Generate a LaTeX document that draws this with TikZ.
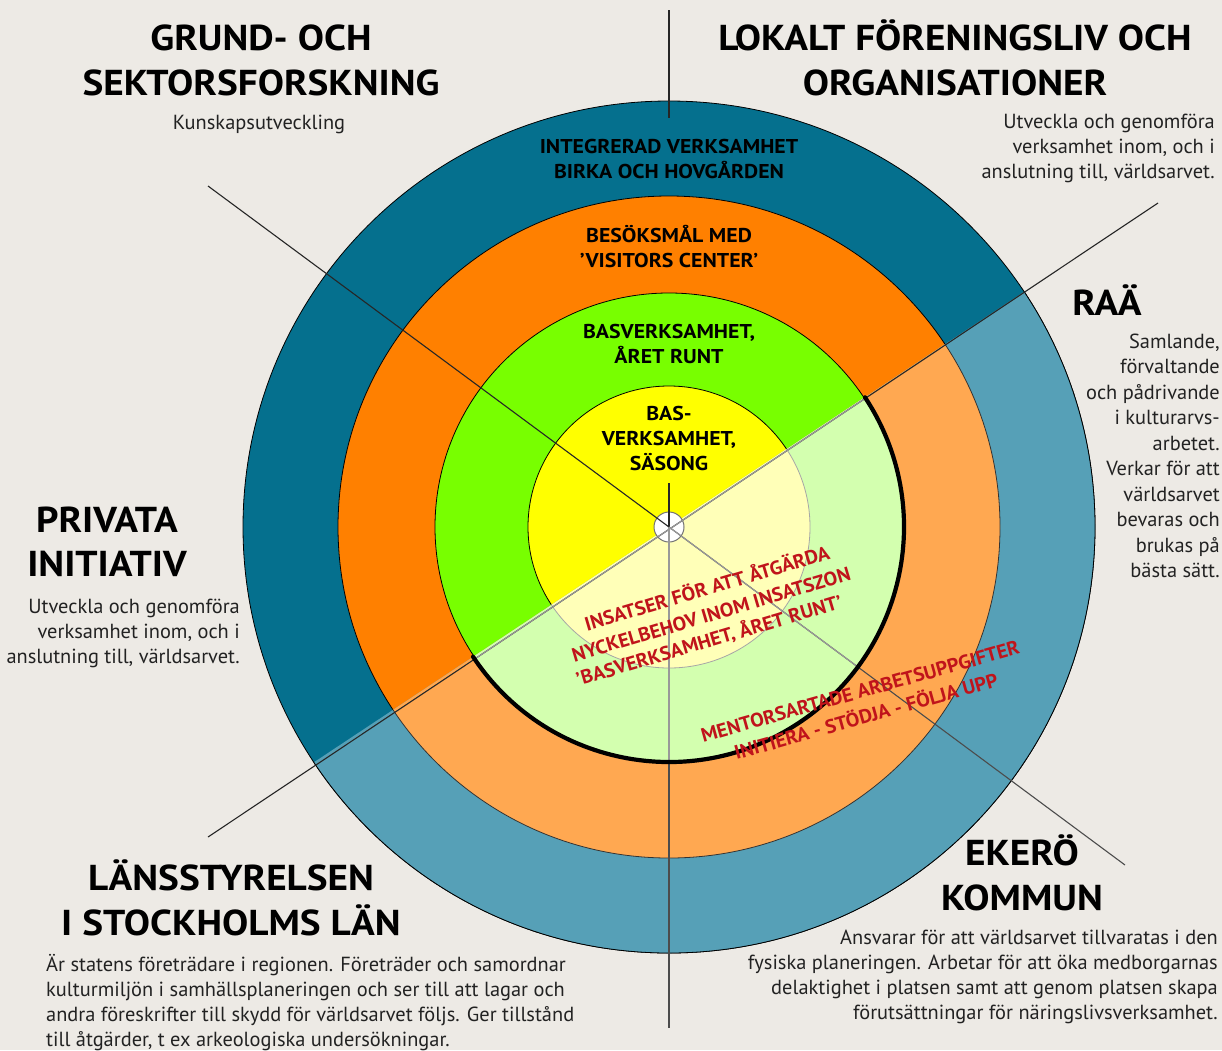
\documentclass[tikz,border=0pt]{standalone}
\usepackage{fontspec}
\setmainfont{PT Sans}
\newfontfamily\headfont[FakeStretch=1.09]{PT Sans}
\newfontfamily\redfont[FakeStretch=1.04]{PT Sans}
\usetikzlibrary{calc}
\definecolor{bg}{HTML}{EDEAE5}
\definecolor{dblue}{HTML}{05708E}
\definecolor{lblue}{HTML}{56A0B7}
\definecolor{dorange}{HTML}{FF8000}
\definecolor{lorange}{HTML}{FFA851}
\definecolor{dgreen}{HTML}{78FF00}
\definecolor{lgreen}{HTML}{D3FFAF}
\definecolor{dyellow}{HTML}{FFFF00}
\definecolor{lyellow}{HTML}{FFFFB8}
\definecolor{redc}{HTML}{C0141B}
\definecolor{bodyc}{HTML}{222222}
\begin{document}
\begin{tikzpicture}[x=1pt,y=-1pt,
  head/.style={font=\headfont\bfseries\fontsize{36}{36}\selectfont, anchor=base, inner sep=0pt, text=black},
  body/.style={font=\fontsize{20.4}{20}\selectfont, inner sep=0pt, text=bodyc},
  ring/.style={font=\headfont\bfseries\fontsize{20}{20}\selectfont, anchor=base, inner sep=0pt, text=black},
  redtxt/.style={font=\redfont\bfseries\fontsize{19.5}{19}\selectfont, anchor=base, inner sep=0pt, text=redc, rotate=16.5},
  ln/.style={draw=black!85, line width=1.1pt},
  glight/.style={draw=black!40, line width=1.1pt}]
\useasboundingbox (0,0) rectangle (1222,1050);
\fill[bg] (0,0) rectangle (1222,1050);
\coordinate (c) at (669,527);
\coordinate (ul) at (208,186);
\coordinate (lr) at (1125,865);
\coordinate (dl) at (208,837);
\coordinate (dr) at (1158,203);
\coordinate (vt) at (669,10);
\coordinate (vtb) at (669,118);
\coordinate (vm) at (669,483);
\coordinate (vb) at (669,1028);

% dark half (full rings)
\fill[dblue, draw=black, line width=0.8pt] (c) circle (426);
\fill[dorange, draw=black, line width=0.8pt] (c) circle (331);
\fill[dgreen, draw=black, line width=0.8pt] (c) circle (234);
\fill[dyellow, draw=black, line width=0.8pt] (c) circle (141);

% light half
\begin{scope}
  \clip (1647,-121) -- (1641,1994) -- (-309,1175) -- cycle;
  \fill[lblue, draw=black, line width=0.8pt] (c) circle (426);
  \fill[lorange, draw=black!80, line width=0.8pt] (c) circle (331);
  \fill[lgreen, draw=black!60, line width=0.8pt] (c) circle (234);
  \fill[lyellow, draw=black!35, line width=0.8pt] (c) circle (141);
\end{scope}

% centre disc
\fill[white, draw=black!55, line width=1pt] (c) circle (15);

% lines
\draw[ln] (vt) -- (vtb);
\draw[ln] (vm) -- (c);
\draw[ln] (ul) -- (c);
\draw[ln, draw=black!70] (c) -- (lr);
\draw[ln, draw=black!70] (c) -- (vb);
\draw[ln] (dl) -- (dr);
\begin{scope}
  \clip (1647,-121) -- (1641,1994) -- (-309,1175) -- cycle;
  \clip (c) circle (233);
  \draw[glight] (c) -- (lr);
  \draw[glight] (c) -- (vb);
  \draw[glight] (dl) -- (dr);
\end{scope}

% thick hand-drawn border
\draw[line width=4.2pt, line cap=round] ($(c)+(-33.5:235)$) arc[start angle=-33.5, end angle=146.5, radius=235];

% ring labels
\node[ring] (r1a) at (669,153) {INTEGRERAD VERKSAMHET};
\node[ring] (r1b) at (669,178) {BIRKA OCH HOVGÅRDEN};
\node[ring] (r2a) at (669,242) {BESÖKSMÅL MED};
\node[ring] (r2b) at (669,267) {’VISITORS CENTER’};
\node[ring] (r3a) at (669,338) {BASVERKSAMHET,};
\node[ring] (r3b) at (669,363) {ÅRET RUNT};
\node[ring] (r4a) at (669,420) {BAS-};
\node[ring] (r4b) at (669,445) {VERKSAMHET,};
\node[ring] (r4c) at (669,470) {SÄSONG};

% red labels
\node[redtxt] (i1) at (709,595) {INSATSER FÖR ATT ÅTGÄRDA};
\node[redtxt] (i2) at (713,621) {NYCKELBEHOV INOM INSATSZON};
\node[redtxt] (i3) at (711,647) {’BASVERKSAMHET, ÅRET RUNT’};
\node[redtxt, rotate=-0.8] (m1) at (862,698) {MENTORSARTADE ARBETSUPPGIFTER};
\node[redtxt, rotate=-0.8] (m2) at (868,723) {INITIERA - STÖDJA - FÖLJA UPP};

% top left
\node[head] (g1) at (261,50) {GRUND- OCH};
\node[head] (g2) at (261,95) {SEKTORSFORSKNING};
\node[body, anchor=base] (g3) at (259,129) {Kunskapsutveckling};

% top right
\node[head] (l1) at (955,50) {LOKALT FÖRENINGSLIV OCH};
\node[head] (l2) at (955,95) {ORGANISATIONER};
\node[body, anchor=base east] (l3) at (1215,128) {Utveckla och genomföra};
\node[body, anchor=base east] (l4) at (1215,153) {verksamhet inom, och i};
\node[body, anchor=base east] (l5) at (1215,178) {anslutning till, världsarvet.};

% RAÄ
\node[head] (ra) at (1107,315) {RAÄ};
\node[body, anchor=base east] (ra1) at (1220,348) {Samlande,};
\node[body, anchor=base east] (ra2) at (1220,373.5) {förvaltande};
\node[body, anchor=base east] (ra3) at (1220,399) {och pådrivande};
\node[body, anchor=base east] (ra4) at (1220,424.5) {i kulturarvs-};
\node[body, anchor=base east] (ra5) at (1220,450) {arbetet.};
\node[body, anchor=base east] (ra6) at (1220,475.5) {Verkar för att};
\node[body, anchor=base east] (ra7) at (1220,501) {världsarvet};
\node[body, anchor=base east] (ra8) at (1220,526.5) {bevaras och};
\node[body, anchor=base east] (ra9) at (1220,552) {brukas på};
\node[body, anchor=base east] (ra10) at (1220,577.5) {bästa sätt.};

% privata
\node[head] (p1) at (107,532) {PRIVATA};
\node[head] (p2) at (107,576) {INITIATIV};
\node[body, anchor=base east] (p3) at (240,613) {Utveckla och genomföra};
\node[body, anchor=base east] (p4) at (240,638) {verksamhet inom, och i};
\node[body, anchor=base east] (p5) at (240,663) {anslutning till, världsarvet.};

% länsstyrelsen
\node[head] (s1) at (231,890) {LÄNSSTYRELSEN};
\node[head] (s2) at (231,935) {I STOCKHOLMS LÄN};
\node[body, anchor=base west] (s3) at (46,971) {Är statens företrädare i regionen. Företräder och samordnar};
\node[body, anchor=base west] (s4) at (46,996) {kulturmiljön i samhällsplaneringen och ser till att lagar och};
\node[body, anchor=base west] (s5) at (46,1021) {andra föreskrifter till skydd för världsarvet följs. Ger tillstånd};
\node[body, anchor=base west] (s6) at (46,1046) {till åtgärder, t ex arkeologiska undersökningar.};

% ekerö
\node[head] (e1) at (1022,865) {EKERÖ};
\node[head] (e2) at (1022,910) {KOMMUN};
\node[body, anchor=base east] (e3) at (1218,944) {Ansvarar för att världsarvet tillvaratas i den};
\node[body, anchor=base east] (e4) at (1218,969) {fysiska planeringen. Arbetar för att öka medborgarnas};
\node[body, anchor=base east] (e5) at (1218,994) {delaktighet i platsen samt att genom platsen skapa};
\node[body, anchor=base east] (e6) at (1218,1019) {förutsättningar för näringslivsverksamhet.};
\end{tikzpicture}
\end{document}
